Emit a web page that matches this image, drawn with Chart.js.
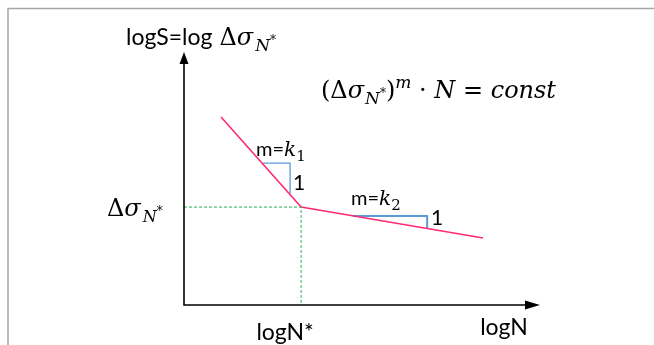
<!DOCTYPE html>
<html><head><meta charset="utf-8">
<script src="https://cdn.jsdelivr.net/npm/chart.js@4/dist/chart.umd.min.js"></script>
<style>html,body{margin:0;padding:0;background:#fff;}canvas{display:block;}</style>
</head><body>
<canvas id="c" width="654" height="345"></canvas>
<script>
// S-N curve (log-log), axes in arbitrary log units 0..10
const curveLogN = [1.04, 3.29, 8.40];
const curveLogS = [7.43, 3.87, 2.65];
const kneeLogN = 3.29;
const kneeLogS = 3.87;
const tri1LogN = [2.22, 2.98, 2.98];
const tri1LogS = [5.61, 5.61, 4.40];
const tri2LogN = [4.75, 6.83, 6.83];
const tri2LogS = [3.52, 3.52, 3.03];
const axisMin = 0, axisMax = 10;

const pts = (xs, ys) => xs.map((x, i) => ({x, y: ys[i]}));

const SANS = '"Lato", "Open Sans", sans-serif';
const SERIF = '"DejaVu Serif", "Liberation Serif", serif';

function runs(ctx, x, y, list) {
  let cx = x;
  list.forEach(r => {
    ctx.font = r.f;
    ctx.fillText(r.t, cx, y + (r.dy || 0));
    cx += ctx.measureText(r.t).width + (r.gap || 0);
  });
}

const overlay = {
  id: 'overlay',
  beforeDraw(chart) {
    const ctx = chart.ctx;
    ctx.save();
    ctx.strokeStyle = '#a6a6a6';
    ctx.lineWidth = 1.5;
    ctx.beginPath();
    ctx.moveTo(8, 345); ctx.lineTo(8, 8.5); ctx.lineTo(654, 8.5);
    ctx.stroke();
    ctx.restore();
  },
  afterDraw(chart) {
    const ctx = chart.ctx;
    const xs = chart.scales.x, ys = chart.scales.y;
    const x0 = xs.getPixelForValue(axisMin), x1 = xs.getPixelForValue(axisMax);
    const y0 = ys.getPixelForValue(axisMin), y1 = ys.getPixelForValue(axisMax);
    ctx.save();
    ctx.strokeStyle = '#000'; ctx.fillStyle = '#000'; ctx.lineWidth = 1.6;
    ctx.beginPath();
    ctx.moveTo(x0, y1 + 10); ctx.lineTo(x0, y0); ctx.lineTo(x1 - 12, y0);
    ctx.stroke();
    ctx.beginPath();
    ctx.moveTo(x0, y1); ctx.lineTo(x0 - 4.5, y1 + 12); ctx.lineTo(x0 + 4.5, y1 + 12); ctx.closePath(); ctx.fill();
    ctx.beginPath();
    ctx.moveTo(x1, y0); ctx.lineTo(x1 - 15, y0 - 4.5); ctx.lineTo(x1 - 15, y0 + 4.5); ctx.closePath(); ctx.fill();

    ctx.textBaseline = 'alphabetic'; ctx.textAlign = 'left';
    // Y-axis title
    runs(ctx, 126, 45, [
      {t: 'logS=log', f: '23px ' + SANS, gap: 7},
      {t: 'Δ', f: '24px ' + SERIF},
      {t: 'σ', f: 'italic 24px ' + SERIF, gap: 2},
      {t: 'N', f: 'italic 17px ' + SERIF, dy: 6},
      {t: '*', f: '12px ' + SERIF, dy: -1}
    ]);
    // Formula
    runs(ctx, 321, 98, [
      {t: '(', f: '24px ' + SERIF},
      {t: 'Δ', f: '24px ' + SERIF},
      {t: 'σ', f: 'italic 24px ' + SERIF, gap: 1},
      {t: 'N', f: 'italic 17px ' + SERIF, dy: 6},
      {t: '*', f: '12px ' + SERIF, dy: -1},
      {t: ')', f: '24px ' + SERIF},
      {t: 'm', f: 'italic 17px ' + SERIF, dy: -10},
      {t: ' · ', f: '24px ' + SERIF},
      {t: 'N', f: 'italic 24px ' + SERIF},
      {t: ' = ', f: '24px ' + SERIF},
      {t: 'const', f: 'italic 24px ' + SERIF}
    ]);
    // Knee stress label
    runs(ctx, 107, 216, [
      {t: 'Δ', f: '24px ' + SERIF},
      {t: 'σ', f: 'italic 24px ' + SERIF, gap: 2},
      {t: 'N', f: 'italic 16px ' + SERIF, dy: 6},
      {t: '*', f: '12px ' + SERIF, dy: -1}
    ]);
    // Slope labels
    runs(ctx, 256, 156, [
      {t: 'm=', f: '20px ' + SANS},
      {t: 'k', f: 'italic 20px ' + SERIF},
      {t: '1', f: '15px ' + SERIF, dy: 5}
    ]);
    runs(ctx, 351, 205, [
      {t: 'm=', f: '20px ' + SANS},
      {t: 'k', f: 'italic 20px ' + SERIF},
      {t: '2', f: '15px ' + SERIF, dy: 5}
    ]);
    ctx.font = '21px ' + SANS;
    ctx.fillText('1', 293, 190);
    ctx.fillText('1', 431, 225);
    // X labels
    ctx.font = '23px ' + SANS;
    ctx.textAlign = 'center';
    ctx.fillText('logN*', xs.getPixelForValue(kneeLogN) - 16, 340);
    ctx.fillText('logN', 504, 335);
    ctx.restore();
  }
};

new Chart(document.getElementById('c'), {
  type: 'scatter',
  data: {
    datasets: [
      {data: pts([axisMin, kneeLogN, kneeLogN], [kneeLogS, kneeLogS, axisMin]), showLine: true,
       borderColor: '#22b35a', borderWidth: 1, borderDash: [3, 2], pointRadius: 0, clip: false},
      {data: pts(curveLogN, curveLogS), showLine: true, borderColor: '#ff2a78', borderWidth: 1.6,
       pointRadius: 0, clip: false},
      {data: pts(tri1LogN, tri1LogS), showLine: true, borderColor: '#5b9bd5', borderWidth: 1.3,
       pointRadius: 0, clip: false},
      {data: pts(tri2LogN, tri2LogS), showLine: true, borderColor: '#5b9bd5', borderWidth: 2,
       pointRadius: 0, clip: false}
    ]
  },
  options: {
    responsive: false, devicePixelRatio: 1, animation: false,
    layout: {padding: {left: 184, right: 114, top: 52, bottom: 40}},
    plugins: {legend: {display: false}, tooltip: {enabled: false}},
    scales: {
      x: {type: 'linear', min: axisMin, max: axisMax, display: false},
      y: {type: 'linear', min: axisMin, max: axisMax, display: false}
    }
  },
  plugins: [overlay]
});
</script>
</body></html>
